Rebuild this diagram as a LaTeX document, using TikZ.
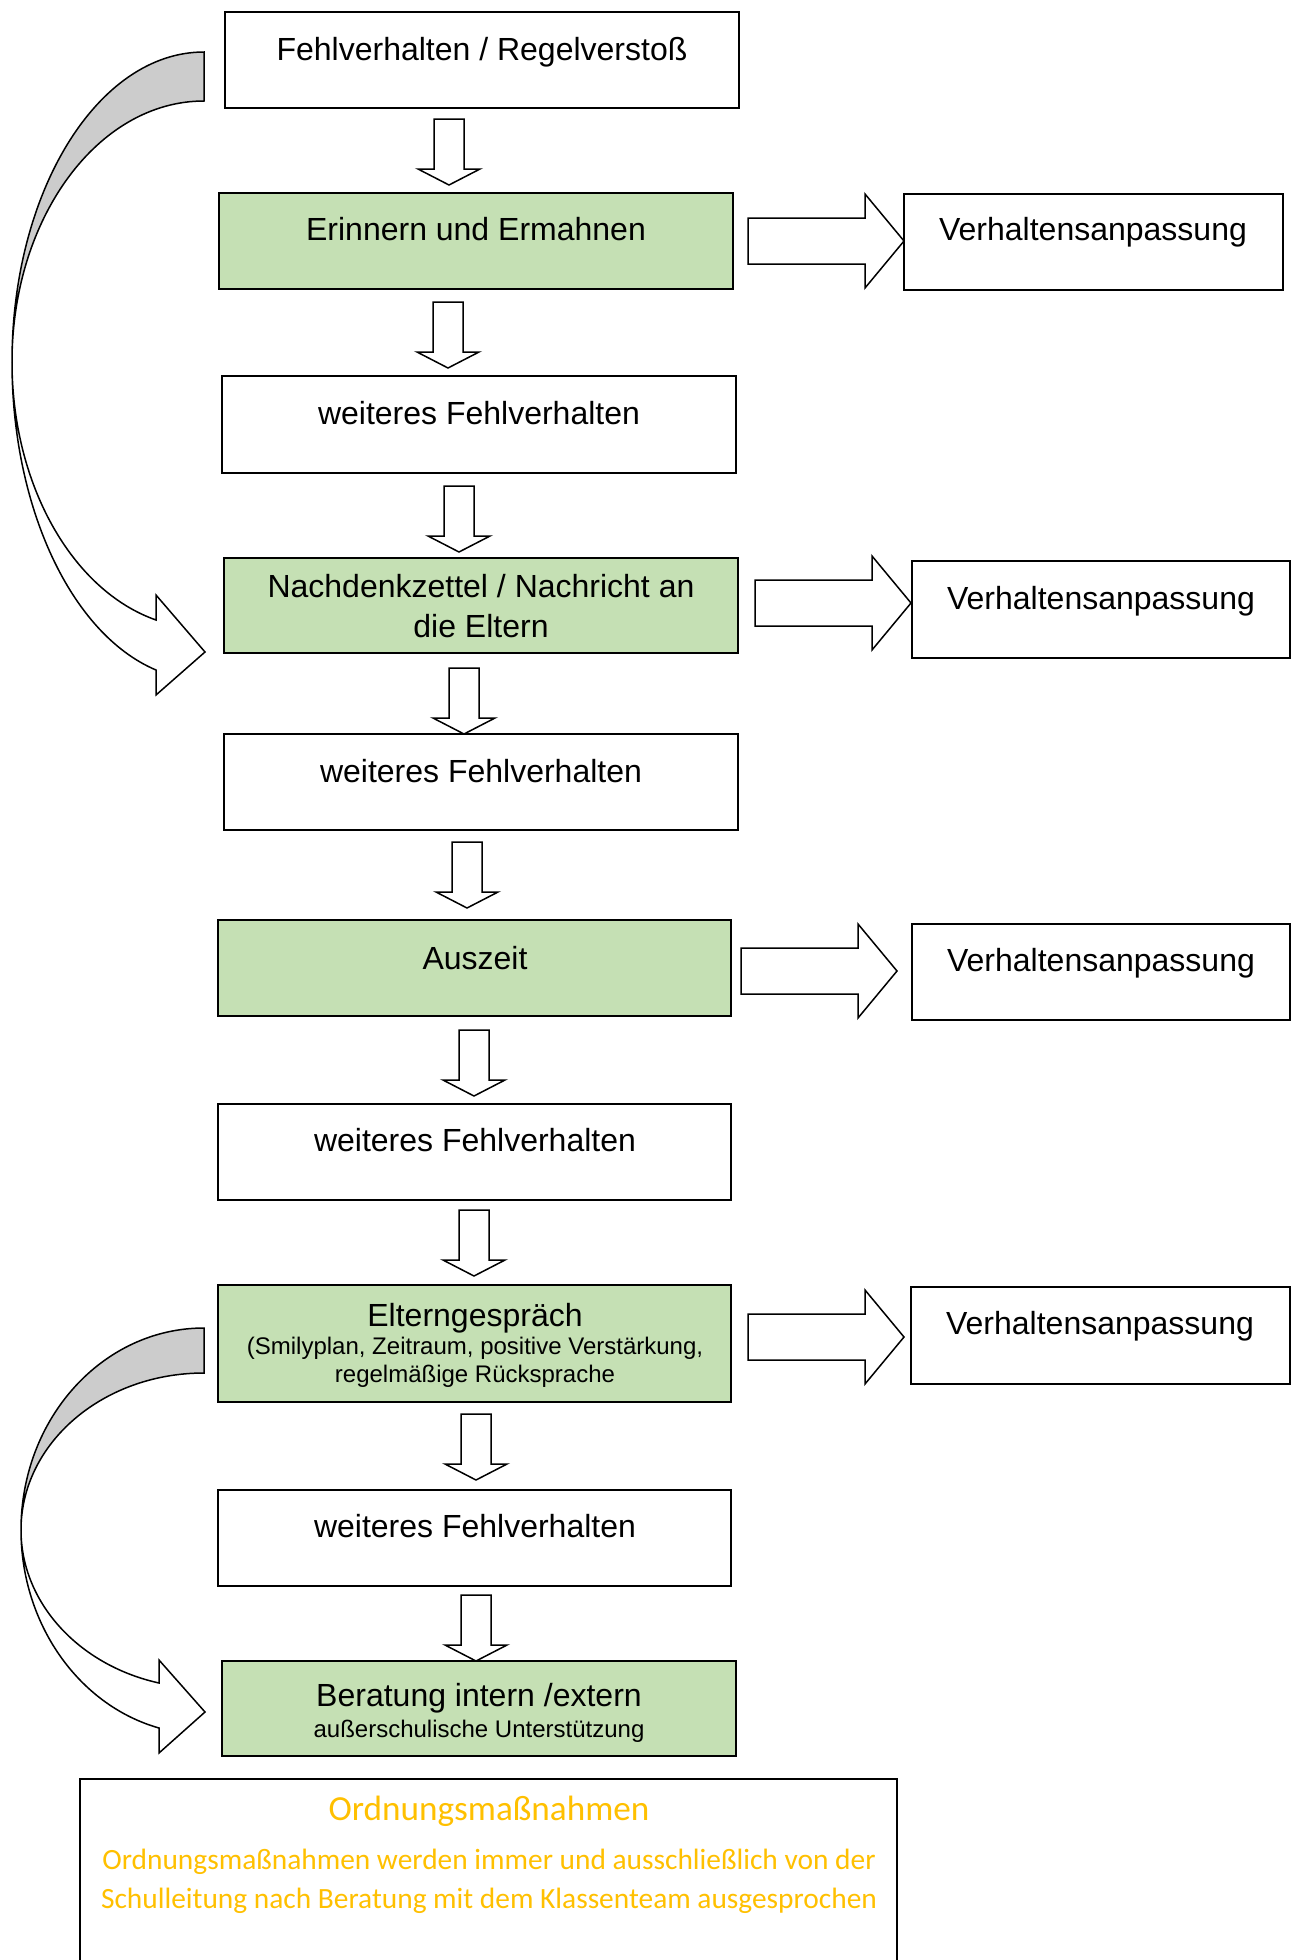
\documentclass[tikz,border=0pt]{standalone}
\usepackage{fontspec}
\setmainfont{Liberation Sans}
\newfontfamily\carl{Carlito}
\usetikzlibrary{fit}
\definecolor{boxgreen}{HTML}{C5E0B4}
\definecolor{ordorange}{HTML}{FFC000}
\definecolor{tailgray}{HTML}{CCCCCC}
\begin{document}
\begin{tikzpicture}[x=0.5pt,y=-0.5pt,line width=0.75pt,
  box/.style={draw,inner sep=0pt,outer sep=0pt,fill=white},
  greenbox/.style={box,fill=boxgreen},
  txt/.style={anchor=base,inner sep=0pt,font=\fontsize{16}{19}\selectfont},
  small/.style={anchor=base,inner sep=0pt,font=\fontsize{12}{14}\selectfont},
  ordtitle/.style={anchor=base,inner sep=0pt,text=ordorange,font=\carl\fontsize{17.6}{21}\selectfont},
  ordtxt/.style={anchor=base,inner sep=0pt,text=ordorange,font=\carl\fontsize{14.7}{17}\selectfont},
  downarr/.pic={\draw[fill=white] (-15,0) -- (15,0) -- (15,50) -- (31,50) -- (0,66) -- (-31,50) -- (-15,50) -- cycle;},
  rightarr/.pic={\draw[fill=white] (0,-23) -- (117,-23) -- (117,-47) -- (156,0) -- (117,47) -- (117,23) -- (0,23) -- cycle;}
]
\useasboundingbox (0,0) rectangle (1297,1960);

% boxes
\node[box,fit={(225,12)(739,108)}] (b1) {};
\node[greenbox,fit={(219,193)(733,289)}] (b2) {};
\node[box,fit={(904,194)(1283,290)}] (v1) {};
\node[box,fit={(222,376)(736,473)}] (b3) {};
\node[greenbox,fit={(224,558)(738,653)}] (b4) {};
\node[box,fit={(912,561)(1290,658)}] (v2) {};
\node[box,fit={(224,734)(738,830)}] (b5) {};
\node[greenbox,fit={(218,920)(731,1016)}] (b6) {};
\node[box,fit={(912,924)(1290,1020)}] (v3) {};
\node[box,fit={(218,1104)(731,1200)}] (b7) {};
\node[greenbox,fit={(218,1285)(731,1402)}] (b8) {};
\node[box,fit={(911,1287)(1290,1384)}] (v4) {};
\node[box,fit={(218,1490)(731,1586)}] (b9) {};
\node[greenbox,fit={(222,1661)(736,1756)}] (b10) {};
\node[box,fit={(80,1779)(897,1985)}] (ord) {};

% texts
\node[txt] (t1) at (482,60) {Fehlverhalten / Regelverstoß};
\node[txt] (t2) at (476,240) {Erinnern und Ermahnen};
\node[txt] (tv1) at (1093,240) {Verhaltensanpassung};
\node[txt] (t3) at (479,424) {weiteres Fehlverhalten};
\node[txt] (t4a) at (481,597) {Nachdenkzettel / Nachricht an};
\node[txt] (t4b) at (481,637) {die Eltern};
\node[txt] (tv2) at (1101,609) {Verhaltensanpassung};
\node[txt] (t5) at (481,782) {weiteres Fehlverhalten};
\node[txt] (t6) at (475,969) {Auszeit};
\node[txt] (tv3) at (1101,971) {Verhaltensanpassung};
\node[txt] (t7) at (475,1151) {weiteres Fehlverhalten};
\node[txt] (t8a) at (475,1326) {Elterngespräch};
\node[small] (t8b) at (475,1354) {(Smilyplan, Zeitraum, positive Verstärkung,};
\node[small] (t8c) at (475,1382) {regelmäßige Rücksprache};
\node[txt] (tv4) at (1100,1334) {Verhaltensanpassung};
\node[txt] (t9) at (475,1537) {weiteres Fehlverhalten};
\node[txt] (t10a) at (479,1706) {Beratung intern /extern};
\node[small] (t10b) at (479,1737) {außerschulische Unterstützung};
\node[ordtitle] (to1) at (489,1820) {Ordnungsmaßnahmen};
\node[ordtxt] (to2) at (489,1869) {Ordnungsmaßnahmen werden immer und ausschließlich von der};
\node[ordtxt] (to3) at (489,1908) {Schulleitung nach Beratung mit dem Klassenteam ausgesprochen};

% down block arrows
\pic at (449,119) {downarr};
\pic at (448,302) {downarr};
\pic at (459,486) {downarr};
\pic at (464,668) {downarr};
\pic at (467,842) {downarr};
\pic at (474,1030) {downarr};
\pic at (474,1210) {downarr};
\pic at (476,1414) {downarr};
\pic at (476,1595) {downarr};

% right block arrows
\pic at (748,241) {rightarr};
\pic at (755,603) {rightarr};
\pic at (741,971) {rightarr};
\pic at (748,1337) {rightarr};

% top curved arrow
\draw[fill=tailgray] (204,52) .. controls (98,52) and (12,191) .. (12,362)
  .. controls (12,218) and (98,101) .. (204,101) -- cycle;
\draw[fill=white] (12,362) .. controls (12,507) and (71,634) .. (156,670)
  -- (156,695) -- (205,652) -- (156,595) -- (156,620)
  .. controls (71,590) and (12,483) .. (12,362) -- cycle;

% bottom curved arrow
\draw[fill=tailgray] (204,1328) .. controls (103,1328) and (21,1418) .. (21,1530)
  .. controls (21,1443) and (103,1373) .. (204,1373) -- cycle;
\draw[fill=white] (21,1530) .. controls (21,1623) and (78,1705) .. (159,1728)
  -- (159,1753) -- (205,1712) -- (159,1660) -- (159,1683)
  .. controls (78,1665) and (21,1602) .. (21,1530) -- cycle;
\end{tikzpicture}
\end{document}
